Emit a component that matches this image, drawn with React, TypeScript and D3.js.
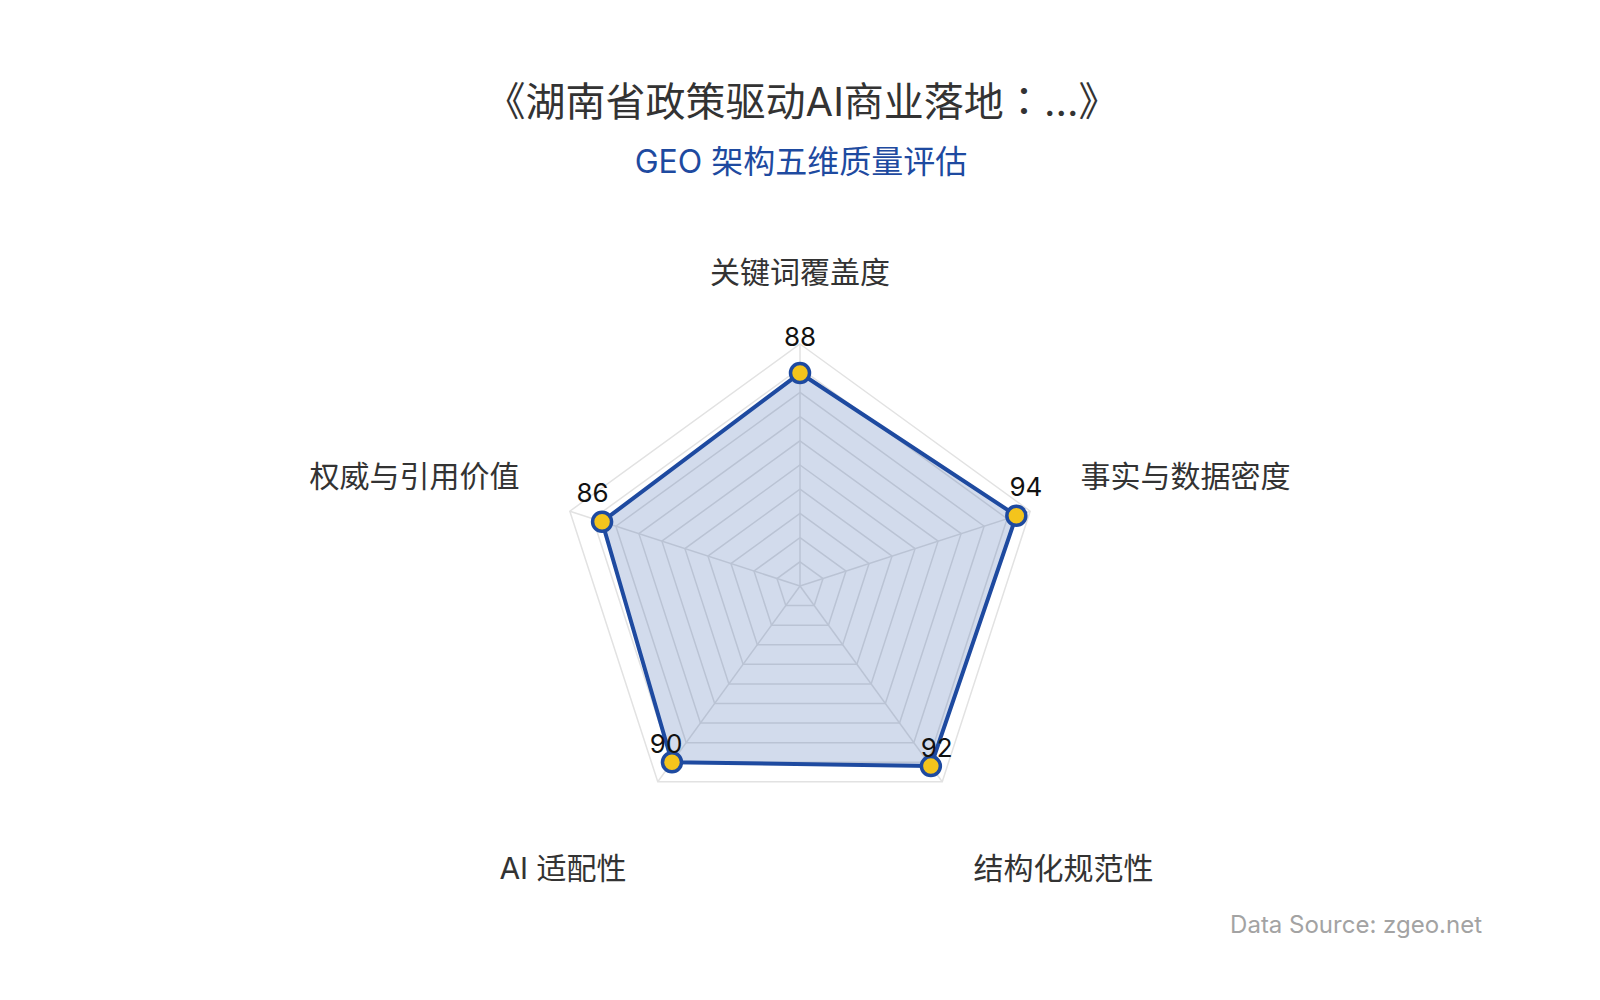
import React, { useEffect, useRef } from 'react';
import * as d3 from 'd3';

const dimensionNames = ['关键词覆盖度', '事实与数据密度', '结构化规范性', 'AI 适配性', '权威与引用价值'];
const scores = [88, 94, 92, 90, 86];
const ringLevels = [10, 20, 30, 40, 50, 60, 70, 80, 90, 100];
const maxScore = 100;

const titleParts = ['《湖南省政策驱动AI商业落地', '：', '...》'];
const subtitleText = 'GEO 架构五维质量评估';
const sourceText = 'Data Source: zgeo.net';

const WIDTH = 1600;
const HEIGHT = 1000;
const FONT = "Inter, 'Noto Sans CJK SC', sans-serif";
const BLUE = '#1e4aa0';

const RadarChart: React.FC = () => {
  const svgRef = useRef<SVGSVGElement>(null);

  useEffect(() => {
    const svg = d3.select(svgRef.current);
    svg.selectAll('*').remove();

    const cx = 800;
    const cy = 586;
    const radius = 242;
    const nameGap = 53;

    const rScale = d3.scaleLinear().domain([0, maxScore]).range([0, radius]);
    const angle = d3.scaleLinear().domain([0, dimensionNames.length]).range([0, 2 * Math.PI]);

    const toXY = (i: number, r: number) => [r * Math.sin(angle(i)), -r * Math.cos(angle(i))];

    svg.append('rect').attr('width', WIDTH).attr('height', HEIGHT).attr('fill', '#ffffff');

    // Title (centred full-width colon, as in the original)
    const title = svg.append('text')
      .attr('x', 802).attr('y', 116)
      .attr('text-anchor', 'middle')
      .style('font-family', FONT).style('font-size', '40px').style('fill', '#333333');
    title.append('tspan').text(titleParts[0]);
    title.append('tspan').style('font-family', "'Noto Sans CJK TC', sans-serif").text(titleParts[1]);
    title.append('tspan').text(titleParts[2]);

    svg.append('text')
      .attr('x', 801).attr('y', 173)
      .attr('text-anchor', 'middle')
      .style('font-family', FONT).style('font-size', '32px').style('fill', BLUE)
      .text(subtitleText);

    const g = svg.append('g').attr('transform', `translate(${cx},${cy})`);

    // Grid rings
    const ringLine = d3.lineRadial<number>()
      .angle((_, i) => angle(i))
      .curve(d3.curveLinearClosed);

    g.append('g').selectAll('path')
      .data(ringLevels)
      .enter().append('path')
      .attr('d', lvl => ringLine.radius(() => rScale(lvl))(dimensionNames.map(() => lvl)))
      .attr('fill', 'none')
      .attr('stroke', '#e2e2e2')
      .attr('stroke-width', 1.5);

    // Spokes
    g.append('g').selectAll('line')
      .data(dimensionNames)
      .enter().append('line')
      .attr('x1', 0).attr('y1', 0)
      .attr('x2', (_, i) => toXY(i, rScale(maxScore))[0])
      .attr('y2', (_, i) => toXY(i, rScale(maxScore))[1])
      .attr('stroke', '#e2e2e2')
      .attr('stroke-width', 1.5);

    // Series area
    const areaLine = d3.lineRadial<number>()
      .angle((_, i) => angle(i))
      .radius(d => rScale(d))
      .curve(d3.curveLinearClosed);

    g.append('path')
      .datum(scores)
      .attr('d', areaLine)
      .attr('fill', BLUE)
      .attr('fill-opacity', 0.2)
      .attr('stroke', BLUE)
      .attr('stroke-width', 4)
      .attr('stroke-linejoin', 'round');

    // Points
    g.append('g').selectAll('circle')
      .data(scores)
      .enter().append('circle')
      .attr('cx', (d, i) => toXY(i, rScale(d))[0])
      .attr('cy', (d, i) => toXY(i, rScale(d))[1])
      .attr('r', 9.5)
      .attr('fill', '#f4c41c')
      .attr('stroke', BLUE)
      .attr('stroke-width', 3.5);

    // Value labels
    g.append('g').selectAll('text')
      .data(scores)
      .enter().append('text')
      .attr('x', (d, i) => toXY(i, rScale(d) + 10)[0])
      .attr('y', (d, i) => toXY(i, rScale(d) + 10)[1] - 17)
      .attr('text-anchor', 'middle')
      .style('font-family', FONT).style('font-size', '26px').style('fill', '#111111')
      .text(d => d);

    // Axis names
    g.append('g').selectAll('text')
      .data(dimensionNames)
      .enter().append('text')
      .attr('x', (_, i) => toXY(i, radius + nameGap)[0])
      .attr('y', (_, i) => {
        const y = toXY(i, radius + nameGap)[1];
        return y > 0 ? y + 54 : y - 8;
      })
      .attr('text-anchor', (_, i) => {
        const x = toXY(i, radius + nameGap)[0];
        return Math.abs(x) < 1 ? 'middle' : x > 0 ? 'start' : 'end';
      })
      .style('font-family', FONT).style('font-size', '30px').style('fill', '#333333')
      .text(d => d);

    // Source
    svg.append('text')
      .attr('x', 1482).attr('y', 933)
      .attr('text-anchor', 'end')
      .style('font-family', FONT).style('font-size', '24px').style('fill', '#a3a3a3')
      .text(sourceText);
  }, []);

  return <svg ref={svgRef} width={WIDTH} height={HEIGHT} style={{ display: 'block' }}></svg>;
};

export default function App() {
  useEffect(() => {
    document.body.style.margin = '0';
  }, []);
  return <RadarChart />;
}
